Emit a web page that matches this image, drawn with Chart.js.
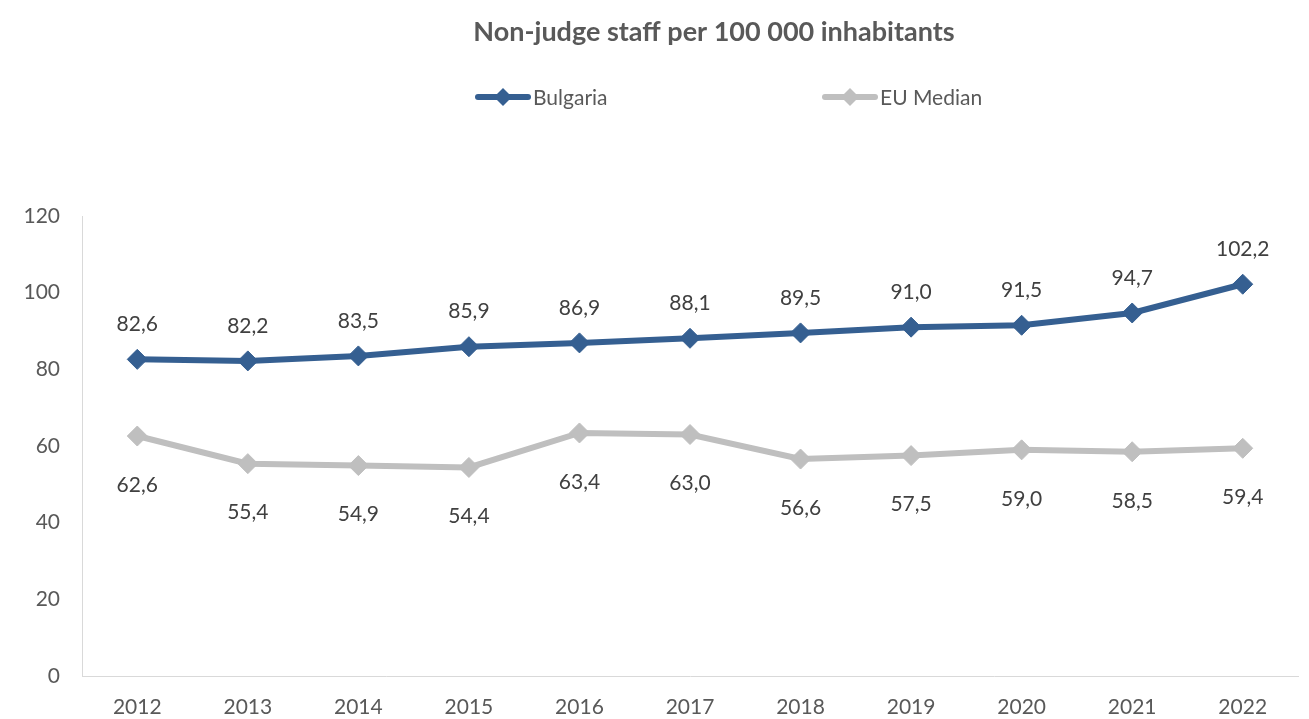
<!DOCTYPE html>
<html>
<head>
<meta charset="utf-8">
<script src="https://cdn.jsdelivr.net/npm/chart.js@4.4.0/dist/chart.umd.min.js"></script>
<style>
  html, body { margin: 0; padding: 0; background: #fff; }
</style>
</head>
<body>
<canvas id="staffChart" width="1309" height="719"></canvas>
<script>
// chart data
const years = ['2012', '2013', '2014', '2015', '2016', '2017', '2018', '2019', '2020', '2021', '2022'];
const bulgaria = [82.6, 82.2, 83.5, 85.9, 86.9, 88.1, 89.5, 91.0, 91.5, 94.7, 102.2];
const euMedian = [62.6, 55.4, 54.9, 54.4, 63.4, 63.0, 56.6, 57.5, 59.0, 58.5, 59.4];
const seriesNames = ['Bulgaria', 'EU Median'];
const yMin = 0, yMax = 120, yStep = 20;

const blue = '#355F91';
const grey = '#BFBFBF';
const fontName = 'Lato, "Liberation Sans", sans-serif';

function fmt(v) {
    return v.toFixed(1).replace('.', ',');
}

// title + legend, drawn like the Excel one
const headerPlugin = {
    id: 'header',
    afterDraw(chart) {
        const ctx = chart.ctx;
        ctx.save();
        ctx.fillStyle = '#595959';
        ctx.font = 'bold 27px ' + fontName;
        ctx.textAlign = 'center';
        ctx.textBaseline = 'middle';
        ctx.fillText('Non-judge staff per 100 000 inhabitants', 714, 32);

        const items = [
            { x: 475, color: blue, text: seriesNames[0] },
            { x: 822, color: grey, text: seriesNames[1] }
        ];
        const y = 97;
        ctx.font = '21px ' + fontName;
        ctx.textAlign = 'left';
        items.forEach(function(it) {
            ctx.strokeStyle = it.color;
            ctx.lineWidth = 6;
            ctx.lineCap = 'round';
            ctx.beginPath();
            ctx.moveTo(it.x + 3, y);
            ctx.lineTo(it.x + 53, y);
            ctx.stroke();
            ctx.fillStyle = it.color;
            ctx.beginPath();
            ctx.moveTo(it.x + 28 - 9, y);
            ctx.lineTo(it.x + 28, y - 9);
            ctx.lineTo(it.x + 28 + 9, y);
            ctx.lineTo(it.x + 28, y + 9);
            ctx.closePath();
            ctx.fill();
            ctx.fillStyle = '#595959';
            ctx.fillText(it.text, it.x + 58, y + 1);
        });
        ctx.restore();
    }
};

// value labels: above for Bulgaria, below for EU median
const valueLabels = {
    id: 'valueLabels',
    afterDatasetsDraw(chart) {
        const ctx = chart.ctx;
        ctx.save();
        ctx.font = '21px ' + fontName;
        ctx.fillStyle = '#404040';
        ctx.textAlign = 'center';
        ctx.textBaseline = 'middle';
        chart.data.datasets.forEach(function(ds, i) {
            const meta = chart.getDatasetMeta(i);
            const offset = i === 0 ? -35 : 49;
            meta.data.forEach(function(pt, j) {
                ctx.fillText(fmt(ds.data[j]), pt.x, pt.y + offset);
            });
        });
        ctx.restore();
    }
};

const ctx = document.getElementById('staffChart').getContext('2d');

new Chart(ctx, {
    type: 'line',
    data: {
        labels: years,
        datasets: [{
            label: seriesNames[0],
            data: bulgaria,
            borderColor: blue,
            backgroundColor: blue,
            borderWidth: 6,
            pointStyle: 'rectRot',
            pointRadius: 10,
            pointBorderWidth: 1,
            pointBorderColor: blue,
            pointBackgroundColor: blue,
            tension: 0
        }, {
            label: seriesNames[1],
            data: euMedian,
            borderColor: grey,
            backgroundColor: grey,
            borderWidth: 6,
            pointStyle: 'rectRot',
            pointRadius: 10,
            pointBorderWidth: 1,
            pointBorderColor: grey,
            pointBackgroundColor: grey,
            tension: 0
        }]
    },
    options: {
        responsive: false,
        animation: false,
        layout: {
            padding: { top: 216, left: 0, right: 10, bottom: 0 }
        },
        plugins: {
            legend: { display: false },
            title: { display: false },
            tooltip: { enabled: false }
        },
        scales: {
            x: {
                offset: true,
                grid: { display: false, drawTicks: false },
                border: { display: true, color: '#D9D9D9', width: 1 },
                ticks: {
                    color: '#595959',
                    font: { family: fontName, size: 21 },
                    padding: 19,
                    maxRotation: 0
                },
                afterFit: function(scale) { scale.height = 43; }
            },
            y: {
                min: yMin,
                max: yMax,
                grid: { display: false, drawTicks: false },
                border: { display: true, color: '#D9D9D9', width: 1 },
                ticks: {
                    stepSize: yStep,
                    color: '#595959',
                    font: { family: fontName, size: 21 },
                    padding: 22
                },
                afterFit: function(scale) { scale.width = 82; }
            }
        }
    },
    plugins: [valueLabels, headerPlugin]
});
</script>
</body>
</html>
